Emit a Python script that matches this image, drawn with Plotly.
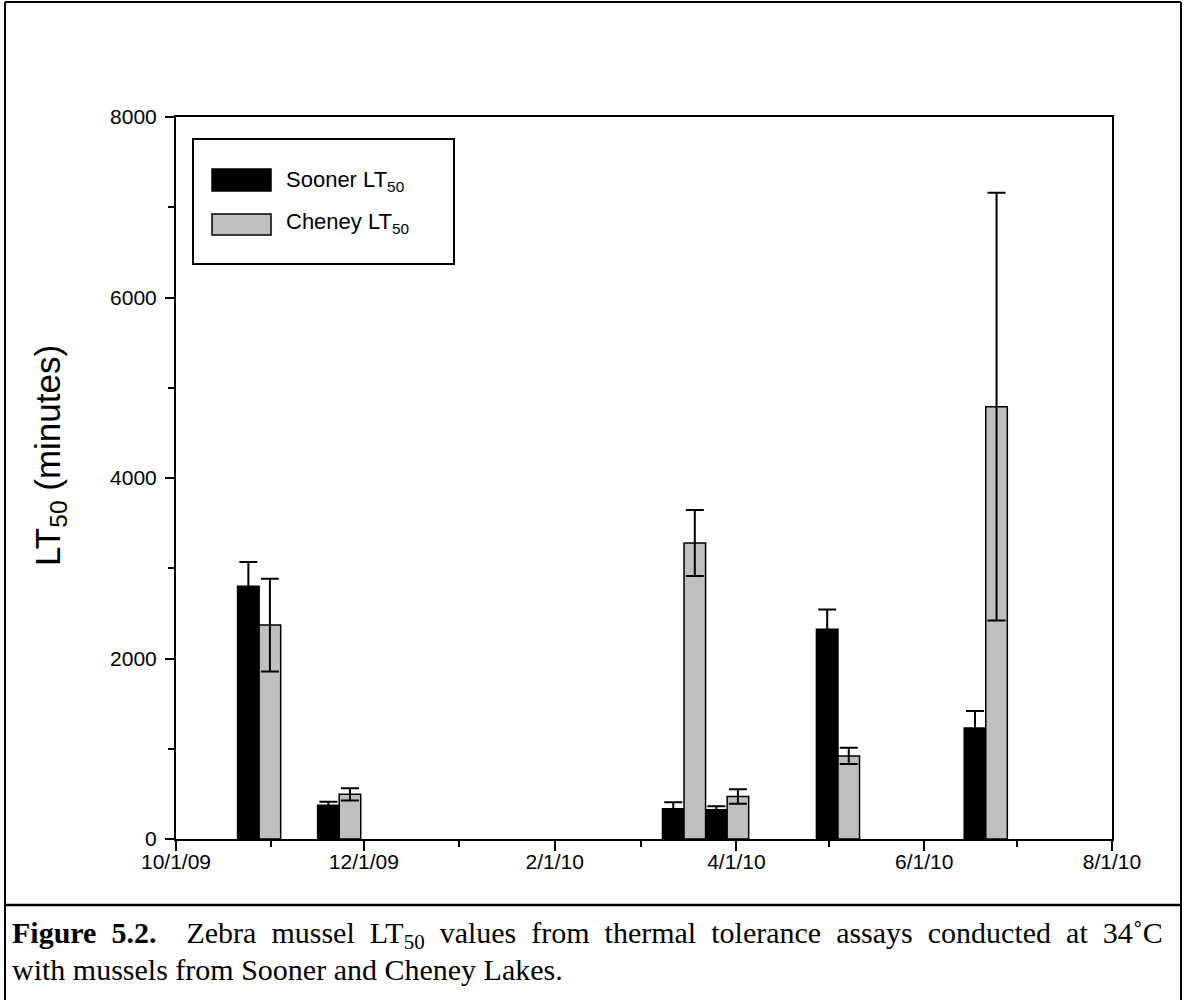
import plotly.graph_objects as go

# ---- data ----
dates = ['2009-10-28', '2009-11-23', '2010-03-15', '2010-03-29', '2010-05-04', '2010-06-21']
sooner = [2800, 375, 335, 325, 2325, 1230]
sooner_err = [270, 38, 72, 38, 218, 188]
cheney = [2370, 495, 3280, 470, 920, 4790]
cheney_err = [515, 68, 365, 80, 90, 2370]
series_names = ['Sooner LT<sub>50</sub>', 'Cheney LT<sub>50</sub>']
x_tick_vals = ['2009-10-01', '2009-12-01', '2010-02-01', '2010-04-01', '2010-06-01', '2010-08-01']
x_tick_text = ['10/1/09', '12/1/09', '2/1/10', '4/1/10', '6/1/10', '8/1/10']
x_minor_vals = ['2009-11-01', '2010-01-01', '2010-03-01', '2010-05-01', '2010-07-01']
y_tick_vals = [0, 2000, 4000, 6000, 8000]
y_title = 'LT<sub>50</sub> (minutes)'
caption_words = ['<b>Figure', '5.2.</b>', '', 'Zebra', 'mussel', 'LT<sub>50</sub>', 'values', 'from', 'thermal',
                 'tolerance', 'assays', 'conducted', 'at', '34˚C']
caption_line2 = 'with mussels from Sooner and Cheney Lakes.'

DAY = 86400000
BW = 7 * DAY
AX = "Arial, 'Liberation Sans', sans-serif"
SERIF = "'Times New Roman', 'Liberation Serif', serif"

W, H = 1185, 1000
L, R, T, B = 176, 1112, 117, 839  # plot area pixels


def px(x):
    return (x - L) / (R - L)


def py(y):
    return (B - y) / (B - T)


fig = go.Figure()
fig.add_trace(go.Bar(
    x=dates, y=sooner, name=series_names[0], width=BW, offset=-BW,
    marker=dict(color='black', line=dict(color='black', width=1.5)),
    error_y=dict(type='data', array=sooner_err, color='black', thickness=2, width=9),
    showlegend=False))
fig.add_trace(go.Bar(
    x=dates, y=cheney, name=series_names[1], width=BW, offset=0,
    marker=dict(color='#c0c0c0', line=dict(color='black', width=1.5)),
    error_y=dict(type='data', array=cheney_err, color='black', thickness=2, width=9),
    showlegend=False))

shapes = []
annotations = []
# legend box (drawn)
shapes.append(dict(type='rect', xref='paper', yref='paper', x0=px(193), x1=px(454), y0=py(264), y1=py(139),
                   line=dict(color='black', width=2), fillcolor='white', layer='above'))
shapes.append(dict(type='rect', xref='paper', yref='paper', x0=px(212), x1=px(271), y0=py(191), y1=py(169),
                   line=dict(color='black', width=1.5), fillcolor='black', layer='above'))
shapes.append(dict(type='rect', xref='paper', yref='paper', x0=px(212), x1=px(271), y0=py(235), y1=py(214),
                   line=dict(color='black', width=1.5), fillcolor='#c0c0c0', layer='above'))
annotations.append(dict(xref='paper', yref='paper', x=px(284), y=py(181), xanchor='left', yanchor='middle',
                        text=series_names[0], showarrow=False, font=dict(family=AX, size=22, color='black')))
annotations.append(dict(xref='paper', yref='paper', x=px(284), y=py(223), xanchor='left', yanchor='middle',
                        text=series_names[1], showarrow=False, font=dict(family=AX, size=22, color='black')))

# y-axis title
annotations.append(dict(xref='paper', yref='paper', x=px(50), y=py(456), xanchor='center', yanchor='middle',
                        textangle=-90, text=y_title, showarrow=False,
                        font=dict(family=AX, size=35, color='black')))

# outer frame and caption separator
fx0, fx1 = px(5), px(1181)
fy_top, fy_bot = py(2), py(1000)
shapes.append(dict(type='line', xref='paper', yref='paper', x0=fx0, x1=fx0, y0=fy_bot, y1=fy_top, line=dict(color='black', width=2)))
shapes.append(dict(type='line', xref='paper', yref='paper', x0=fx1, x1=fx1, y0=fy_bot, y1=fy_top, line=dict(color='black', width=2)))
shapes.append(dict(type='line', xref='paper', yref='paper', x0=fx0, x1=fx1, y0=fy_top, y1=fy_top, line=dict(color='black', width=2)))
shapes.append(dict(type='line', xref='paper', yref='paper', x0=fx0, x1=fx1, y0=py(905), y1=py(905), line=dict(color='black', width=2.5)))

# caption (line 1 justified: widened word gaps)
caption_line1 = ' \u00a0'.join(caption_words)
annotations.append(dict(xref='paper', yref='paper', x=px(10), y=py(935), xanchor='left', yanchor='middle',
                        text=caption_line1, showarrow=False, font=dict(family=SERIF, size=30, color='black')))
annotations.append(dict(xref='paper', yref='paper', x=px(10), y=py(969), xanchor='left', yanchor='middle',
                        text=caption_line2, showarrow=False, font=dict(family=SERIF, size=30, color='black')))

fig.update_layout(
    width=W, height=H,
    margin=dict(l=L, r=W - R, t=T, b=H - B, pad=0),
    paper_bgcolor='white', plot_bgcolor='white',
    barmode='overlay',
    shapes=shapes, annotations=annotations,
    font=dict(family=AX, size=20, color='black'),
    xaxis=dict(type='date', range=['2009-10-01', '2010-08-01'],
               tickmode='array', tickvals=x_tick_vals, ticktext=x_tick_text,
               ticks='outside', ticklen=10, tickwidth=1.5, tickcolor='black',
               ticklabelstandoff=-7,
               minor=dict(tickmode='array', tickvals=x_minor_vals,
                          ticks='outside', ticklen=6, tickwidth=1.5, tickcolor='black'),
               showline=True, linecolor='black', linewidth=2, mirror=True,
               showgrid=False, zeroline=False,
               tickfont=dict(family=AX, size=21, color='black')),
    yaxis=dict(range=[0, 8000], tickmode='array', tickvals=y_tick_vals,
               ticks='outside', ticklen=9, tickwidth=1.5, tickcolor='black',
               ticklabelstandoff=4,
               minor=dict(dtick=1000, ticks='outside', ticklen=6, tickwidth=1.5, tickcolor='black', showgrid=False),
               showline=True, linecolor='black', linewidth=2, mirror=True,
               showgrid=False, zeroline=False,
               tickfont=dict(family=AX, size=21, color='black')),
)

fig.write_html('out.html')
